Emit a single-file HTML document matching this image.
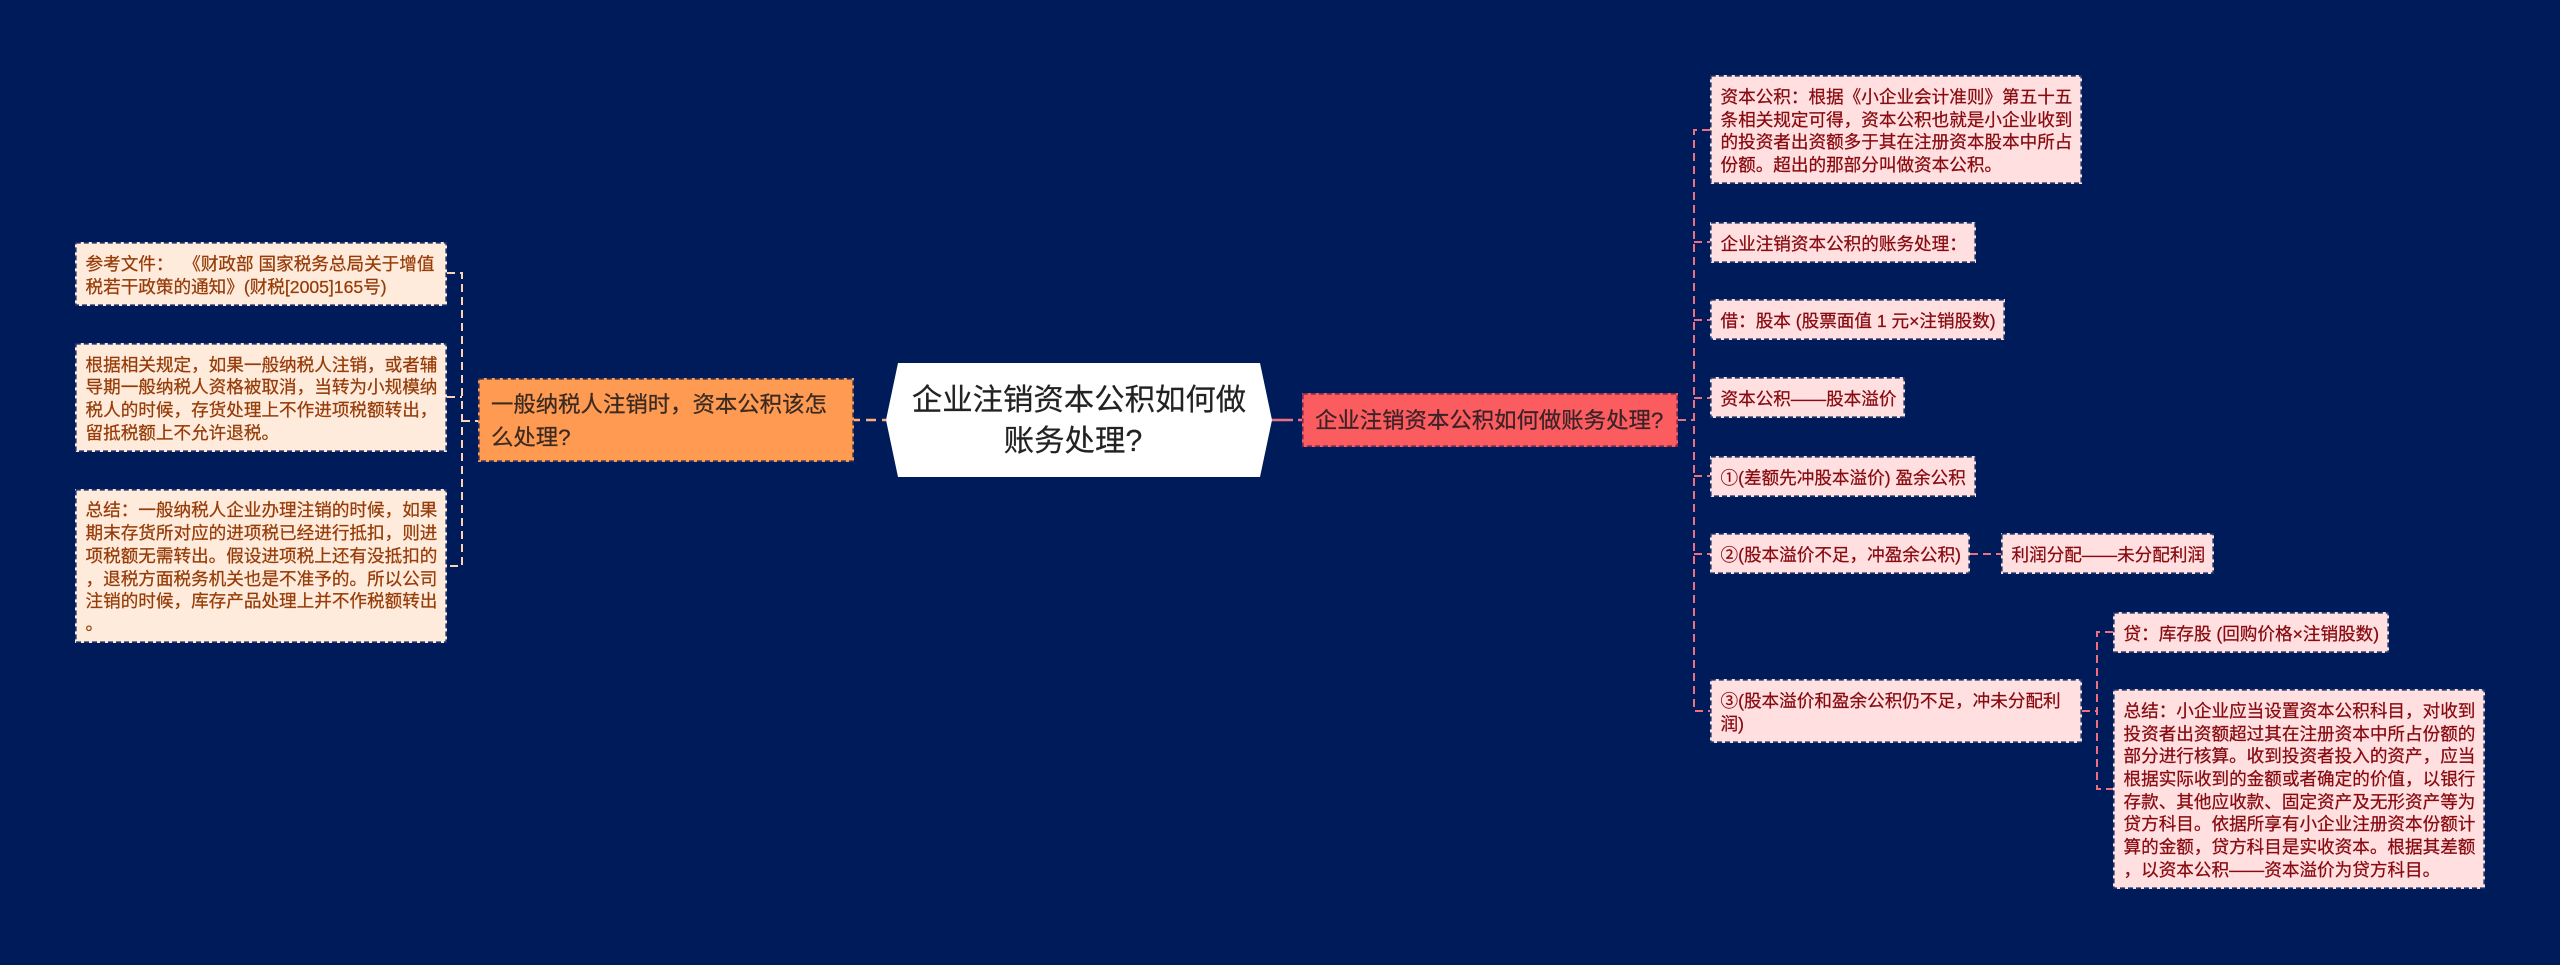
<!DOCTYPE html>
<html lang="zh">
<head>
<meta charset="utf-8">
<style>
html,body{margin:0;padding:0;}
body{width:2560px;height:965px;background:#001b5a;position:relative;overflow:hidden;font-family:"Liberation Sans","Noto Sans CJK SC",sans-serif;}
.b{position:absolute;box-sizing:border-box;display:flex;align-items:center;white-space:pre;-webkit-text-stroke:0.25px currentColor;}
.l{background:#ffebdc;color:#963c08;font-size:17.6px;line-height:22.67px;padding-left:10.5px;padding-top:3px;}
.r{background:#ffdfdf;color:#870a10;font-size:17.6px;line-height:22.67px;padding-left:10.5px;padding-top:3.5px;}
svg{position:absolute;left:0;top:0;}
#root{position:absolute;left:886px;top:363px;width:386px;height:114px;background:#fff;clip-path:polygon(12px 0,374px 0,386px 57px,374px 100%,12px 100%,0 57px);display:flex;align-items:center;justify-content:center;text-align:center;color:#222;font-size:30.4px;line-height:41px;white-space:nowrap;padding-top:1px;box-sizing:border-box;-webkit-text-stroke:0.2px currentColor;}
#root span{position:relative;left:-6px;}
#bd rect{fill:none;stroke-width:1.6;stroke-dasharray:5 3;stroke:#1a3068;}
</style>
</head>
<body>
<svg width="2560" height="965" fill="none">
<g stroke="#ffd3b0" stroke-width="2" stroke-dasharray="8 5">
<path d="M447 273H462V566H447"/>
<path d="M447 397H462"/>
<path d="M462 421H478"/>
</g>
<path d="M854 420H886" stroke="#ffae7a" stroke-width="2.4" stroke-dasharray="10 6" stroke-dashoffset="4"/>
<g stroke="#ee6f82" stroke-width="2" stroke-dasharray="8 5">
<path d="M1271 420H1302" stroke-width="2.4" stroke-dasharray="22 5"/>
<path d="M1678 420H1694"/>
<path d="M1710 130H1694V711H1710"/>
<path d="M1694 242H1710"/>
<path d="M1694 320H1710"/>
<path d="M1694 398H1710"/>
<path d="M1694 476H1710"/>
<path d="M1694 554H1710"/>
<path d="M1970 554H2001"/>
<path d="M2082 711H2097"/>
<path d="M2113 632H2097V789H2113"/>
</g>
</svg>

<div id="root"><div>企业注销资本公积如何做<br><span>账务处理?</span></div></div>

<div class="b" style="left:478px;top:378px;width:376px;height:84px;background:#ff9a52;color:#3a2a20;font-size:22.4px;line-height:33px;padding-left:13px;padding-top:2px;">一般纳税人注销时，资本公积该怎
么处理?</div>
<div class="b" style="left:1302px;top:393px;width:376px;height:54px;background:#fa5c60;color:#3c2226;font-size:22.4px;line-height:33px;padding-left:13px;padding-top:1px;">企业注销资本公积如何做账务处理?</div>

<div class="b l" style="left:75px;top:242px;width:372px;height:64px;">参考文件：  《财政部 国家税务总局关于增值
税若干政策的通知》(财税[2005]165号)</div>
<div class="b l" style="left:75px;top:343px;width:372px;height:109px;">根据相关规定，如果一般纳税人注销，或者辅
导期一般纳税人资格被取消，当转为小规模纳
税人的时候，存货处理上不作进项税额转出，
留抵税额上不允许退税。</div>
<div class="b l" style="left:75px;top:489px;width:372px;height:154px;">总结：一般纳税人企业办理注销的时候，如果
期末存货所对应的进项税已经进行抵扣，则进
项税额无需转出。假设进项税上还有没抵扣的
，退税方面税务机关也是不准予的。所以公司
注销的时候，库存产品处理上并不作税额转出
。</div>

<div class="b r" style="left:1710px;top:75px;width:372px;height:109px;">资本公积：根据《小企业会计准则》第五十五
条相关规定可得，资本公积也就是小企业收到
的投资者出资额多于其在注册资本股本中所占
份额。超出的那部分叫做资本公积。</div>
<div class="b r" style="left:1710px;top:222px;width:266px;height:41px;">企业注销资本公积的账务处理：</div>
<div class="b r" style="left:1710px;top:299px;width:295px;height:41px;">借：股本 (股票面值 1 元×注销股数)</div>
<div class="b r" style="left:1710px;top:377px;width:195px;height:41px;">资本公积——股本溢价</div>
<div class="b r" style="left:1710px;top:456px;width:266px;height:41px;">①(差额先冲股本溢价) 盈余公积</div>
<div class="b r" style="left:1710px;top:533px;width:260px;height:41px;">②(股本溢价不足，冲盈余公积)</div>
<div class="b r" style="left:2001px;top:533px;width:213px;height:41px;">利润分配——未分配利润</div>
<div class="b r" style="left:1710px;top:679px;width:372px;height:64px;">③(股本溢价和盈余公积仍不足，冲未分配利
润)</div>
<div class="b r" style="left:2113px;top:612px;width:276px;height:41px;">贷：库存股 (回购价格×注销股数)</div>
<div class="b r" style="left:2113px;top:689px;width:372px;height:200px;">总结：小企业应当设置资本公积科目，对收到
投资者出资额超过其在注册资本中所占份额的
部分进行核算。收到投资者投入的资产，应当
根据实际收到的金额或者确定的价值，以银行
存款、其他应收款、固定资产及无形资产等为
贷方科目。依据所享有小企业注册资本份额计
算的金额，贷方科目是实收资本。根据其差额
，以资本公积——资本溢价为贷方科目。</div>

<svg id="bd" width="2560" height="965">
<rect x="478.8" y="378.8" width="374.4" height="82.4" style="stroke:#2a2f55"/>
<rect x="1302.8" y="393.8" width="374.4" height="52.4" style="stroke:#7a2a50"/>
<rect x="75.8" y="242.8" width="370.4" height="62.4"/>
<rect x="75.8" y="343.8" width="370.4" height="107.4"/>
<rect x="75.8" y="489.8" width="370.4" height="152.4"/>
<rect x="1710.8" y="75.8" width="370.4" height="107.4"/>
<rect x="1710.8" y="222.8" width="264.4" height="39.4"/>
<rect x="1710.8" y="299.8" width="293.4" height="39.4"/>
<rect x="1710.8" y="377.8" width="193.4" height="39.4"/>
<rect x="1710.8" y="456.8" width="264.4" height="39.4"/>
<rect x="1710.8" y="533.8" width="258.4" height="39.4"/>
<rect x="2001.8" y="533.8" width="211.4" height="39.4"/>
<rect x="1710.8" y="679.8" width="370.4" height="62.4"/>
<rect x="2113.8" y="612.8" width="274.4" height="39.4"/>
<rect x="2113.8" y="689.8" width="370.4" height="198.4"/>
</svg>
</body>
</html>
